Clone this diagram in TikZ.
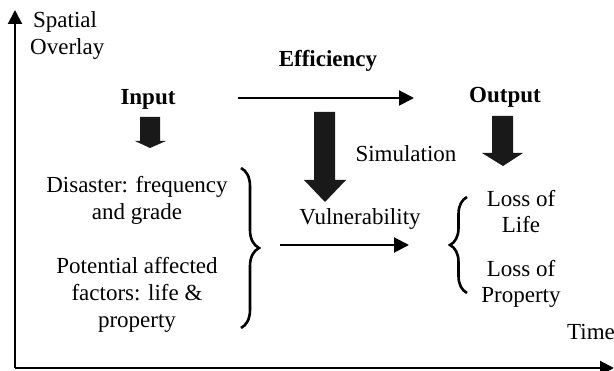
\documentclass[tikz,border=0pt]{standalone}
\usepackage{fontspec}
\setmainfont{Liberation Serif}
\usetikzlibrary{arrows.meta,decorations.pathreplacing}
\begin{document}
\begin{tikzpicture}[x=1pt,y=-1pt,
  txt/.style={anchor=base,inner sep=0pt,font=\fontsize{23}{27}\selectfont},
  btxt/.style={txt,font=\fontsize{23}{27}\selectfont\bfseries},
  axis/.style={line width=2pt,-{Triangle[length=14pt,width=14pt]}},
  conn/.style={line width=2pt,-{Triangle[length=15pt,width=15pt]}},
  blockarrow/.style={fill=black!90},
  bracestyle/.style={line width=2.6pt,decorate,decoration={brace,amplitude=18pt}}]
\useasboundingbox (0,0) rectangle (614,371);
% axes
\coordinate (O) at (15,368);
\coordinate (ytop) at (15,10);
\coordinate (xend) at (614,368);
\draw[axis] (O) -- (ytop);
\draw[axis] (O) -- (xend);
\node[txt,anchor=base west] (sp1) at (33,28) {Spatial};
\node[txt,anchor=base west] (sp2) at (30,55) {Overlay};
\node[txt,anchor=base west] (time) at (567,340) {Time};
% headers
\node[btxt] (eff) at (328,67) {Efficiency};
\node[btxt] (inp) at (148,105) {Input};
\node[btxt] (out) at (505,103) {Output};
% efficiency arrow
\coordinate (e1) at (238,98);
\coordinate (e2) at (414,98);
\draw[conn] (e1) -- (e2);
% block arrows
\fill[blockarrow] (140,117) -- (160,117) -- (160,141) -- (166,141) -- (150,148) -- (135,141) -- (140,141) -- cycle;
\fill[blockarrow] (314,112) -- (335,112) -- (335,180) -- (346,180) -- (325,202) -- (304,180) -- (314,180) -- cycle;
\fill[blockarrow] (492,116) -- (513,116) -- (513,153) -- (523,153) -- (503,166) -- (482,153) -- (492,153) -- cycle;
\node[txt] (sim) at (406,162) {Simulation};
% left texts
\node[txt] (d1) at (137,193) {Disaster: frequency};
\node[txt] (d2) at (137,220) {and grade};
\node[txt] (p1) at (137,274) {Potential affected};
\node[txt] (p2) at (137,301) {factors: life \&};
\node[txt] (p3) at (137,328) {property};
% left brace
\coordinate (lb1) at (241,168);
\coordinate (lb2) at (241,328);
\draw[bracestyle] (lb1) -- (lb2);
% vulnerability
\node[txt] (vul) at (360,225) {Vulnerability};
\coordinate (v1) at (280,245);
\coordinate (v2) at (409,245);
\draw[conn] (v1) -- (v2);
% right brace
\coordinate (rb1) at (467,293);
\coordinate (rb2) at (467,197);
\draw[bracestyle,decoration={brace,amplitude=17pt}] (rb1) -- (rb2);
% right texts
\node[txt] (l1) at (521,207) {Loss of};
\node[txt] (l2) at (521,233) {Life};
\node[txt] (l3) at (521,277) {Loss of};
\node[txt] (l4) at (521,303) {Property};
\end{tikzpicture}
\end{document}
